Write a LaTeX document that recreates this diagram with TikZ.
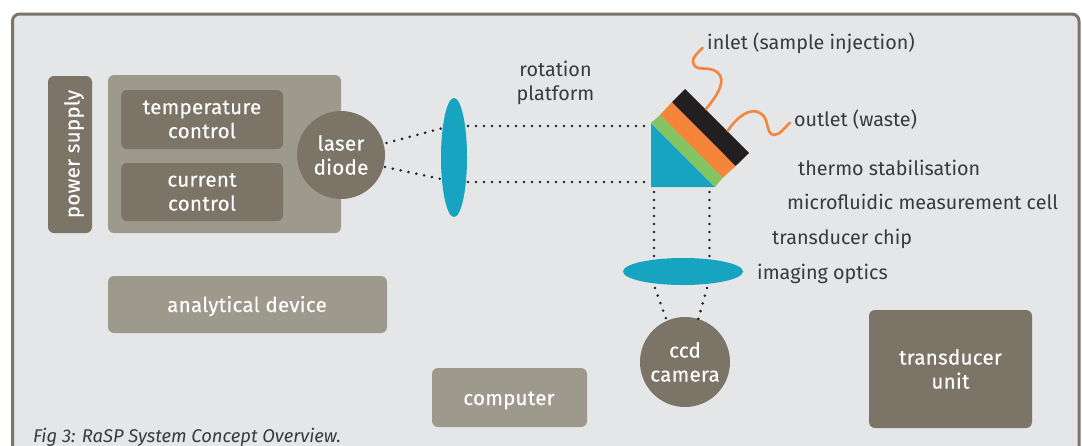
\documentclass[tikz,border=0pt]{standalone}
\usepackage{fontspec}
\setmainfont{Fira Sans}
\newfontfamily\whitefont[FakeBold=0.25,LetterSpace=1.5]{Fira Sans}
\usetikzlibrary{shapes.geometric}
\definecolor{frameC}{HTML}{7B7467}
\definecolor{bgC}{HTML}{E5E6E8}
\definecolor{lightC}{HTML}{9D998C}
\definecolor{tealC}{HTML}{17A4C0}
\definecolor{greenC}{HTML}{84C561}
\definecolor{orangeC}{HTML}{F5853B}
\definecolor{blackC}{HTML}{231F20}
\definecolor{textC}{HTML}{3A3A3C}
\tikzset{
  x=1pt,y=-1pt,
  darkbox/.style={fill=frameC,rounded corners=6pt,inner sep=0pt,text=white,align=center,font=\whitefont\fontsize{20.5}{24}\selectfont},
  lightbox/.style={fill=lightC,rounded corners=6pt,inner sep=0pt,text=white,align=center,font=\whitefont\fontsize{20.5}{24}\selectfont},
  round/.style={circle,fill=frameC,inner sep=0pt,text=white,align=center,font=\whitefont\fontsize{20.5}{24}\selectfont},
  lens/.style={ellipse,fill=tealC,inner sep=0pt},
  lbl/.style={anchor=base west,inner sep=0pt,text=textC,font=\fontsize{19.75}{24}\selectfont},
  wlbl/.style={anchor=base,inner sep=0pt,text=white,font=\whitefont\fontsize{20.5}{24}\selectfont},
  dots/.style={draw=blackC,line width=2.9pt,line cap=round,dash pattern=on 0pt off 8pt},
  tube/.style={draw=orangeC,line width=2.6pt,line cap=round},
}
\begin{document}
\begin{tikzpicture}
\useasboundingbox (0,0) rectangle (1082,445);
\fill[white] (0,0) rectangle (1082,445);
\draw[frameC,fill=bgC,line width=3pt,rounded corners=7pt] (12.5,14) rectangle (1079,470);
\clip (0,0) rectangle (1082,445);
% boxes
\node[darkbox,minimum width=44pt,minimum height=157pt] (power) at (70,154.5) {};
\node[wlbl,rotate=90] (powerT) at (79.5,154) {power supply};
\node[lightbox,minimum width=233pt,minimum height=158pt] (device) at (224.5,154) {};
\node[darkbox,minimum width=162pt,minimum height=59pt] (temp) at (202,119.5) {temperature\\control};
\node[darkbox,minimum width=162pt,minimum height=58pt] (curr) at (202,192) {current\\control};
\node[round,minimum size=88pt] (laser) at (341,155) {laser\\diode};
\node[lens,minimum width=26pt,minimum height=119pt] (lensA) at (454,157.5) {};
\node[lightbox,minimum width=279pt,minimum height=57pt] (analytical) at (247.5,304.5) {};
\node[wlbl] (analyticalT) at (247,312) {analytical device};
\node[lightbox,minimum width=155pt,minimum height=59pt] (computer) at (509.5,397.5) {};
\node[wlbl] (computerT) at (509,405) {computer};
\node[darkbox,minimum width=163pt,minimum height=118pt] (transducer) at (950.5,369) {transducer\\unit};
\node[lens,minimum width=120pt,minimum height=27pt] (lensB) at (683,271.5) {};
\node[round,minimum size=90pt] (ccd) at (685,362) {ccd\\camera};
% cell
\coordinate (pA) at (651,123);
\coordinate (pB) at (651,187);
\coordinate (pC) at (715,187);
\coordinate (gA) at (660,115);
\coordinate (gB) at (723,177.5);
\coordinate (oA) at (672,102);
\coordinate (oB) at (735.7,166);
\coordinate (bA) at (685,89);
\coordinate (bB) at (749,153);
\fill[tealC] (pA) -- (pB) -- (pC) -- cycle;
\fill[greenC] (pA) -- (gA) -- (gB) -- (pC) -- cycle;
\fill[orangeC] (gA) -- (oA) -- (oB) -- (gB) -- cycle;
\fill[blackC] (oA) -- (bA) -- (bB) -- (oB) -- cycle;
% tubes
\coordinate (inA) at (706,109);
\coordinate (inB) at (702.7,47.7);
\coordinate (outA) at (727.7,130.7);
\coordinate (outB) at (790,122.7);
\draw[tube] (inA) .. controls (716,97) and (728,80) .. (717,72) .. controls (708,65) and (695,73) .. (693,62) .. controls (692,57) and (698,53) .. (inB);
\draw[tube] (outA) .. controls (737,117) and (750,107) .. (760,113) .. controls (770,118) and (765,134) .. (774,135) .. controls (780,135) and (785,127) .. (outB);
% dotted rays
\coordinate (rA) at (386.5,143);
\coordinate (rB) at (441,128.5);
\coordinate (rC) at (385,167);
\coordinate (rD) at (441,179);
\coordinate (rE) at (468,126);
\coordinate (rF) at (648,126);
\coordinate (rG) at (468,182);
\coordinate (rH) at (648,182);
\coordinate (dA) at (654,192);
\coordinate (dB) at (654,258);
\coordinate (dC) at (709.5,192);
\coordinate (dD) at (709.5,258);
\coordinate (dE) at (655,288);
\coordinate (dF) at (666.5,320);
\coordinate (dG) at (707,288);
\coordinate (dH) at (698,320);
\draw[dots] (rA) -- (rB);
\draw[dots] (rC) -- (rD);
\draw[dots] (rE) -- (rF);
\draw[dots] (rG) -- (rH);
\draw[dots] (dA) -- (dB);
\draw[dots] (dC) -- (dD);
\draw[dots] (dE) -- (dF);
\draw[dots] (dG) -- (dH);
% labels
\node[lbl,align=center,anchor=center] (rot) at (555.5,83) {rotation\\platform};
\node[lbl] (inlet) at (707,49) {inlet (sample injection)};
\node[lbl] (outlet) at (794,126) {outlet (waste)};
\node[lbl] (thermo) at (798,175) {thermo stabilisation};
\node[lbl] (micro) at (787,209) {microfluidic measurement cell};
\node[lbl] (chip) at (772,244) {transducer chip};
\node[lbl] (imaging) at (757,279) {imaging optics};
\node[lbl,font=\itshape\fontsize{18.4}{20}\selectfont] (cap) at (33,442) {Fig 3: RaSP System Concept Overview.};
\end{tikzpicture}
\end{document}
